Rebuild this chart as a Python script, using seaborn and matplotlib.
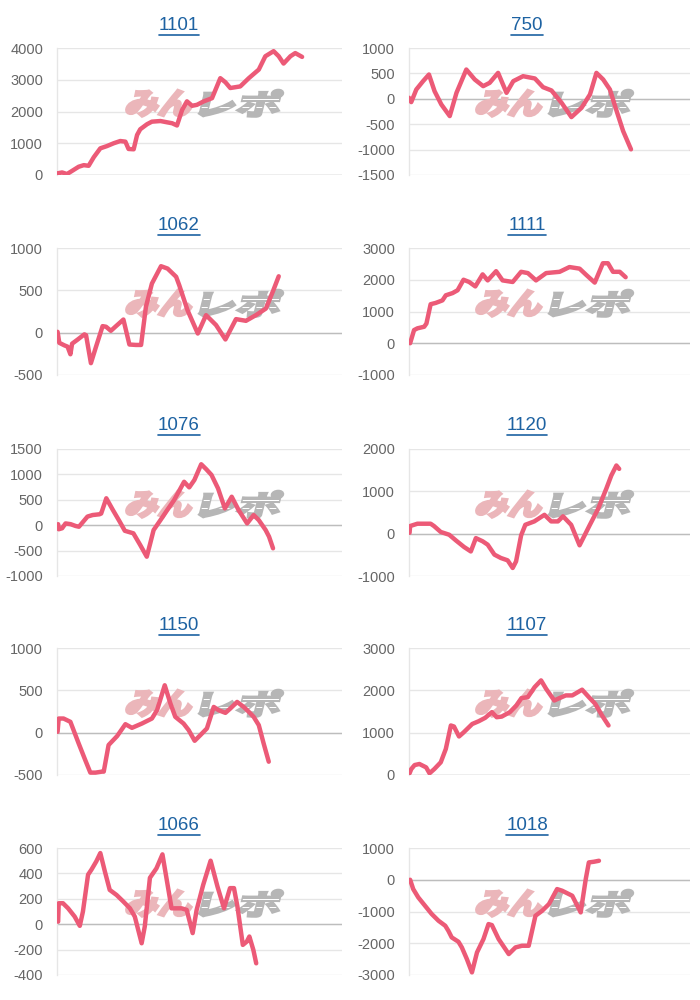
import matplotlib
matplotlib.use("Agg")
import matplotlib.pyplot as plt
import numpy as np
import pandas as pd
import seaborn as sns
from matplotlib.textpath import TextPath
from matplotlib.font_manager import FontProperties
from matplotlib.patches import PathPatch, Rectangle
from matplotlib.transforms import Affine2D, IdentityTransform
from matplotlib.lines import Line2D

# ---------------- data (x = progress 0..100, y = balance) ----------------
titles = ["1101", "750", "1062", "1111", "1076", "1120", "1150", "1107", "1066", "1018"]

x_1101 = [0, 1.8, 3.5, 5.3, 7.6, 9.4, 11.1, 12.9, 15.2, 17.5, 19.9, 22.2, 24.0, 25.1, 26.9, 28.1, 29.2,
          31.6, 33.3, 36.3, 38.6, 40.4, 42.1, 43.9, 45.6, 47.4, 49.1, 51.5, 54.4, 57.3, 59.1, 60.8,
          64.3, 67.3, 70.8, 73.1, 76.0, 77.8, 79.5, 81.9, 83.6, 86.0]
y_1101 = [50, 80, 30, 130, 260, 310, 290, 560, 840, 910, 1000, 1070, 1050, 820, 810, 1260, 1440,
          1600, 1680, 1700, 1660, 1630, 1560, 2050, 2320, 2180, 2210, 2320, 2420, 3050, 2920, 2740,
          2790, 3050, 3320, 3740, 3900, 3740, 3510, 3740, 3840, 3720]

x_750 = [0, 0.8, 2.6, 5.0, 7.1, 9.1, 11.5, 14.5, 16.9, 20.4, 23.4, 26.4, 28.7, 31.7, 34.7, 37.1,
         40.6, 44.8, 47.7, 50.7, 54.3, 57.8, 61.4, 64.4, 66.7, 69.1, 71.5, 73.9, 76.2, 79.0]
y_750 = [20, -65, 183, 347, 478, 150, -111, -340, 118, 576, 380, 249, 314, 510, 118, 347,
         445, 400, 229, 164, -79, -360, -177, 85, 510, 380, 183, -242, -635, -995]

x_1062 = [0.2, 0.8, 2.6, 3.7, 4.7, 5.3, 7.3, 9.6, 10.2, 11.9, 13.7, 16.0, 17.2, 18.9, 20.7, 23.3,
          25.4, 27.7, 29.5, 31.2, 33.3, 36.5, 38.8, 41.8, 42.9, 45.8, 49.4, 52.3, 55.8, 59.1,
          62.8, 66.3, 69.8, 73.3, 75.9, 77.8]
y_1062 = [10, -120, -150, -165, -255, -130, -80, -20, -30, -360, -165, 77, 70, 22, 77, 155,
          -140, -145, -145, 305, 580, 785, 757, 660, 560, 265, -10, 207, 90, -80,
          160, 140, 207, 285, 500, 666]

x_1111 = [0.4, 1.8, 3.0, 5.4, 6.2, 7.7, 9.5, 11.9, 13.1, 15.5, 17.3, 19.4, 21.4, 23.6, 26.2, 28.0,
          31.0, 33.3, 36.9, 39.9, 42.3, 45.2, 48.8, 53.6, 57.1, 60.7, 63.1, 66.1, 69.0, 70.8,
          72.6, 75.0, 77.1]
y_1111 = [0, 415, 470, 520, 620, 1230, 1270, 1350, 1510, 1580, 1670, 2000, 1930, 1790, 2170, 1980,
          2270, 1980, 1930, 2250, 2210, 1980, 2210, 2250, 2400, 2350, 2150, 1910, 2520, 2520,
          2250, 2250, 2080]

x_1076 = [0.4, 0.6, 1.8, 3.0, 4.8, 6.5, 7.7, 9.5, 10.7, 12.5, 14.9, 15.5, 17.3, 19.6, 22.0, 23.8,
          26.8, 29.2, 31.5, 32.7, 33.9, 36.3, 38.7, 41.1, 44.6, 46.4, 48.2, 50.6, 52.4, 54.2,
          56.5, 58.9, 61.3, 63.7, 66.7, 69.0, 70.8, 73.2, 74.4, 75.8]
y_1076 = [20, -80, -60, 35, 20, -15, -30, 90, 170, 200, 215, 230, 530, 300, 70, -110,
          -160, -390, -620, -360, -95, 100, 300, 495, 855, 745, 890, 1200, 1100, 990,
          725, 330, 560, 300, 35, 200, 100, -95, -225, -455]

x_1120 = [0.2, 0.4, 1.8, 3.0, 7.7, 8.9, 11.3, 14.3, 16.7, 19.6, 22.0, 23.8, 26.2, 28.0, 30.4, 32.7,
          35.1, 36.9, 38.1, 39.9, 41.4, 44.6, 48.2, 50.6, 53.0, 54.8, 57.7, 60.7, 64.3, 67.3,
          70.2, 72.0, 73.8, 74.8]
y_1120 = [20, 180, 210, 235, 235, 180, 40, -25, -160, -315, -420, -105, -180, -260, -495, -575,
          -630, -810, -655, -40, 210, 290, 445, 290, 290, 410, 210, -275, 200, 585,
          1060, 1375, 1610, 1530]

x_1150 = [0.2, 0.6, 2.3, 4.7, 7.6, 9.9, 11.7, 13.5, 15.8, 16.4, 18.1, 21.1, 24.0, 26.3, 29.8, 33.3,
          35.1, 37.8, 39.8, 41.5, 44.4, 46.2, 48.3, 50.3, 52.6, 55.0, 56.7, 59.1, 60.8, 63.2,
          65.5, 67.3, 69.0, 70.8, 72.5, 74.3]
y_1150 = [10, 167, 167, 128, -127, -323, -472, -472, -460, -460, -146, -40, 100, 57, 108, 167,
          265, 560, 344, 187, 108, 30, -96, -29, 50, 304, 265, 234, 285, 363,
          304, 246, 187, 89, -127, -343]

x_1107 = [0.2, 0.8, 2.0, 3.7, 6.1, 7.3, 9.0, 11.3, 13.1, 14.9, 16.0, 17.8, 19.5, 22.5, 24.8, 27.1,
          29.5, 31.2, 33.0, 35.9, 38.2, 40.0, 42.3, 44.7, 47.0, 48.8, 51.7, 53.5, 55.8, 58.1,
          61.6, 64.0, 66.3, 68.7, 71.0]
y_1107 = [40, 140, 235, 260, 180, 40, 140, 300, 615, 1170, 1145, 910, 1010, 1205, 1270, 1350,
          1485, 1365, 1380, 1485, 1640, 1815, 1840, 2075, 2235, 2035, 1760, 1815, 1880, 1880,
          2015, 1840, 1680, 1405, 1170]

x_1066 = [0.4, 0.6, 2.1, 3.9, 6.2, 8.0, 9.1, 10.9, 12.1, 13.8, 15.2, 16.8, 18.5, 20.9, 23.2, 25.6,
          27.3, 29.7, 30.8, 32.6, 34.9, 37.0, 37.9, 40.2, 43.7, 45.5, 47.6, 49.0, 51.3, 53.9,
          56.3, 58.6, 60.7, 62.1, 63.3, 65.2, 66.6, 67.5, 68.9, 69.9]
y_1066 = [20, 165, 165, 125, 60, -13, 100, 390, 430, 495, 560, 415, 270, 230, 180, 125,
          60, -150, -18, 365, 440, 550, 430, 125, 125, 113, -70, 113, 310, 500,
          297, 125, 284, 284, 140, -163, -137, -97, -203, -308]

x_1018 = [0.4, 1.5, 3.3, 5.7, 8.1, 10.5, 12.9, 14.0, 15.2, 17.6, 18.8, 20.6, 22.4, 24.2, 26.5, 28.3,
          29.5, 31.9, 35.5, 37.9, 40.2, 42.6, 45.0, 47.4, 49.8, 52.7, 54.5, 58.1, 61.1, 62.9,
          64.0, 65.8, 67.6]
y_1018 = [0, -294, -556, -819, -1081, -1291, -1449, -1606, -1816, -1953, -2131, -2499, -2918, -2289, -1869, -1396,
          -1428, -1869, -2341, -2131, -2079, -2079, -1134, -976, -766, -294, -346, -504, -1029, 21,
          546, 567, 598]

yticks_1101 = [0, 1000, 2000, 3000, 4000]
yticks_750 = [-1500, -1000, -500, 0, 500, 1000]
yticks_1062 = [-500, 0, 500, 1000]
yticks_1111 = [-1000, 0, 1000, 2000, 3000]
yticks_1076 = [-1000, -500, 0, 500, 1000, 1500]
yticks_1120 = [-1000, 0, 1000, 2000]
yticks_1150 = [-500, 0, 500, 1000]
yticks_1107 = [0, 1000, 2000, 3000]
yticks_1066 = [-400, -200, 0, 200, 400, 600]
yticks_1018 = [-3000, -2000, -1000, 0, 1000]

panels = [
    (x_1101, y_1101, yticks_1101), (x_750, y_750, yticks_750),
    (x_1062, y_1062, yticks_1062), (x_1111, y_1111, yticks_1111),
    (x_1076, y_1076, yticks_1076), (x_1120, y_1120, yticks_1120),
    (x_1150, y_1150, yticks_1150), (x_1107, y_1107, yticks_1107),
    (x_1066, y_1066, yticks_1066), (x_1018, y_1018, yticks_1018),
]

# ---------------- style ----------------
sns.set_theme(style="white")
plt.rcParams["font.family"] = ["Liberation Sans", "DejaVu Sans"]
plt.rcParams["axes.unicode_minus"] = False

LINE = "#ec5a77"
GRID = "#e6e6e6"
ZERO = "#bdbdbd"
TICK = "#666666"
TITLE = "#1d62a2"
PINK = "#ebb6ba"
GRAY = "#b6b6b6"

W, H = 700, 1000
fig = plt.figure(figsize=(7, 10), dpi=100)
fig.patch.set_facecolor("white")

col_left = [57, 409]
col_width = [285, 281]
title_cx = [179, 527]
row_top = [48, 248, 449, 648, 848]
ax_h = 127

fp_wm = FontProperties(family="Noto Sans CJK JP", weight="bold")


def watermark(ax):
    cx, cy = ax.transAxes.transform((0.505, 0.565))
    hgt = 26
    parts = [("みん", 64, PINK, cx - 76, False), ("レポ", 78, GRAY, cx - 2, True)]
    for txt, wid, col, x0, stripes in parts:
        p = TextPath((0, 0), txt, size=30, prop=fp_wm)
        e = p.get_extents()
        tr = (Affine2D().translate(-e.x0, -e.y0)
              .scale(wid / e.width, hgt / e.height)
              .skew_deg(14, 0)
              .translate(x0, cy - hgt / 2))
        patch = PathPatch(p, facecolor=col, edgecolor=col, linewidth=2.2,
                          joinstyle="miter", zorder=1)
        patch.set_transform(tr)
        ax.add_artist(patch)
        if stripes:
            for fy in (0.3, 0.62):
                r = Rectangle((x0 - 10, cy - hgt / 2 + fy * hgt), wid + 30, 1.6,
                              facecolor="white", edgecolor="none", zorder=1.1,
                              transform=IdentityTransform())
                ax.add_artist(r)
                r.set_clip_path(patch)


title_texts = []
for i, (xs, ys, yt) in enumerate(panels):
    r, c = divmod(i, 2)
    left = col_left[c] / W
    bottom = 1 - (row_top[r] + ax_h) / H
    ax = fig.add_axes([left, bottom, col_width[c] / W, ax_h / H])
    ax.set_facecolor("white")
    df = pd.DataFrame({"x": xs, "y": ys})
    sns.lineplot(data=df, x="x", y="y", ax=ax, color=LINE, linewidth=3.2,
                 estimator=None, sort=False, zorder=3)
    ax.set_xlim(0, 100)
    ax.set_ylim(yt[0], yt[-1])
    ax.set_yticks(yt)
    ax.set_yticklabels([str(v) for v in yt])
    ax.set_xticks([])
    ax.set_xlabel("")
    ax.set_ylabel("")
    ax.set_axisbelow(True)
    ax.grid(axis="y", color=GRID, linewidth=1)
    ax.axhline(0, color=ZERO, linewidth=1, zorder=0.8)
    for s in ["top", "right", "bottom"]:
        ax.spines[s].set_visible(False)
    ax.spines["left"].set_color(GRID)
    ax.spines["left"].set_linewidth(1)
    ax.tick_params(axis="y", length=3, width=1, color=GRID, pad=7,
                   labelsize=10.5, labelcolor=TICK)
    watermark(ax)
    t = fig.text(title_cx[c] / W, 1 - (row_top[r] - 23) / H, titles[i],
                 ha="center", va="center", fontsize=13.5, color=TITLE)
    title_texts.append(t)

# underline titles (link style)
fig.canvas.draw()
renderer = fig.canvas.get_renderer()
for t in title_texts:
    bb = t.get_window_extent(renderer)
    yy = bb.y0 - 1
    fig.add_artist(Line2D([bb.x0 / W, bb.x1 / W], [yy / H, yy / H],
                          color=TITLE, linewidth=1.2, transform=fig.transFigure))

fig.savefig("out.png", dpi=100, facecolor="white")
